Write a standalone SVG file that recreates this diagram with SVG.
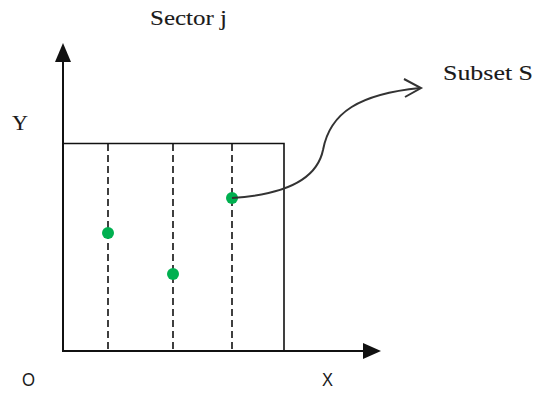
<svg xmlns="http://www.w3.org/2000/svg" width="535" height="394" viewBox="0 0 535 394">
<style>
.axis{stroke:#111;stroke-width:2;fill:none}
.box{stroke:#111;stroke-width:1.6;fill:none}
.dash{stroke:#111;stroke-width:1.6;stroke-dasharray:7,4;fill:none}
.dot{fill:#00b050}
.serif{font-family:"Liberation Serif","Times New Roman",serif;font-size:22px;fill:#1a1a1a;stroke:#1a1a1a;stroke-width:0.12}
.sans{font-family:"Liberation Sans",Arial,sans-serif;font-size:19px;fill:#1a1a1a}
</style>
<rect width="535" height="394" fill="#fff"/>
<g id="axes">
<line class="axis" x1="63" y1="352" x2="63" y2="60"/>
<polygon points="63,43 55,62 71,62" fill="#111"/>
<line class="axis" x1="62" y1="351" x2="365" y2="351"/>
<polygon points="381,351 363,343 363,359" fill="#111"/>
</g>
<g id="sector">
<polyline class="box" points="63,143.5 284,143.5 284,351"/>
<line class="dash" x1="108" y1="144" x2="108" y2="351"/>
<line class="dash" x1="173" y1="144" x2="173" y2="351"/>
<line class="dash" x1="232" y1="144" x2="232" y2="351"/>
</g>
<g id="points">
<circle class="dot" cx="108" cy="233" r="6"/>
<circle class="dot" cx="173" cy="274" r="6"/>
<circle class="dot" cx="232" cy="198" r="6"/>
</g>
<g id="connectors">
<path d="M232,198 C295,194 318,174 323,150 C330,112 360,94 420,88" stroke="#333" stroke-width="2" fill="none"/>
<polyline points="404,79 421,88 405,97" stroke="#333" stroke-width="2" fill="none"/>
</g>
<g id="labels">
<text class="serif" x="150" y="25" textLength="77" lengthAdjust="spacingAndGlyphs">Sector j</text>
<text class="serif" x="443" y="80" textLength="90" lengthAdjust="spacingAndGlyphs">Subset S</text>
<text class="serif" x="12" y="130" textLength="16" lengthAdjust="spacingAndGlyphs">Y</text>
<text class="sans" x="22" y="386" textLength="13" lengthAdjust="spacingAndGlyphs">O</text>
<text class="sans" x="322" y="386" textLength="11" lengthAdjust="spacingAndGlyphs">X</text>
</g>
</svg>
